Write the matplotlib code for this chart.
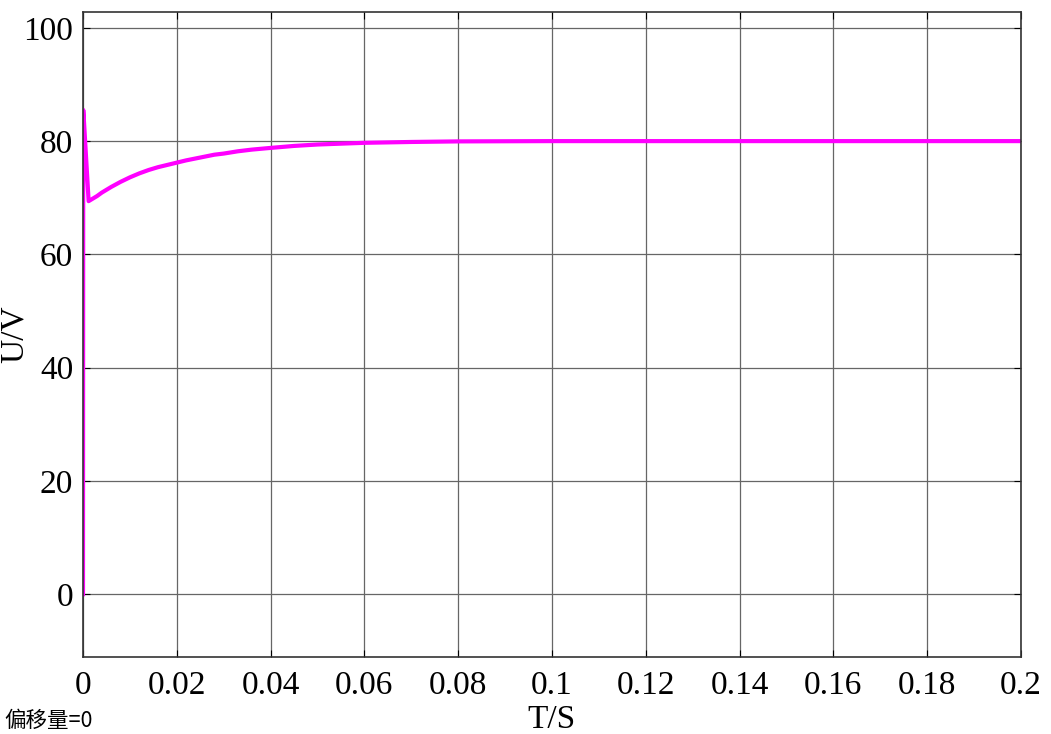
import matplotlib.pyplot as plt

# Readings from the scope trace
t = [0, 0.00005, 0.0001, 0.0012, 0.002, 0.003, 0.004, 0.006, 0.008, 0.01,
     0.012, 0.014, 0.016, 0.018, 0.02, 0.022, 0.025, 0.028, 0.03, 0.033,
     0.036, 0.04, 0.045, 0.05, 0.055, 0.06, 0.07, 0.08, 0.1, 0.12, 0.14,
     0.16, 0.18, 0.2]
u = [0, 85.5, 85.0, 69.4, 69.8, 70.3, 70.9, 71.9, 72.8, 73.6,
     74.3, 74.9, 75.4, 75.8, 76.2, 76.6, 77.1, 77.6, 77.8, 78.2,
     78.5, 78.8, 79.15, 79.4, 79.55, 79.7, 79.85, 79.95, 80.0, 80.0, 80.0,
     80.0, 80.0, 80.0]

xticks = [0, 0.02, 0.04, 0.06, 0.08, 0.1, 0.12, 0.14, 0.16, 0.18, 0.2]
xticklabels = ["0", "0.02", "0.04", "0.06", "0.08", "0.1", "0.12", "0.14", "0.16", "0.18", "0.2"]
yticks = [0, 20, 40, 60, 80, 100]

plt.rcParams['font.family'] = ['Liberation Serif', 'Noto Sans CJK SC']

fig = plt.figure(figsize=(10.51, 7.34), dpi=100)
ax = fig.add_axes([83 / 1051, 1 - 657 / 734, (1021 - 83) / 1051, (657 - 12) / 734])

ax.plot(t, u, color='#ff00ff', lw=3)

ax.set_xlim(0, 0.2)
ax.set_ylim(-11.1, 102.8)
ax.set_xticks(xticks)
ax.set_xticklabels(xticklabels)
ax.set_yticks(yticks)
ax.grid(True, color='#666666', lw=0.9)
ax.tick_params(direction='in', length=5, labelsize=24, top=True, right=True, pad=7)
ax.tick_params(axis='x', pad=10)
for s in ax.spines.values():
    s.set_color('#333333')
    s.set_linewidth(1.2)

ax.set_xlabel('T/S', fontsize=24, labelpad=2)
ax.set_ylabel('U/V', fontsize=24)
ax.yaxis.set_label_coords(-53 / 938, 0.5)

fig.text(4 / 1051, 1 - 727 / 734, '偏移量=0', fontsize=15.5,
         family=['Noto Sans CJK SC', 'DejaVu Sans'], va='baseline')

fig.savefig('out.png', dpi=100)
